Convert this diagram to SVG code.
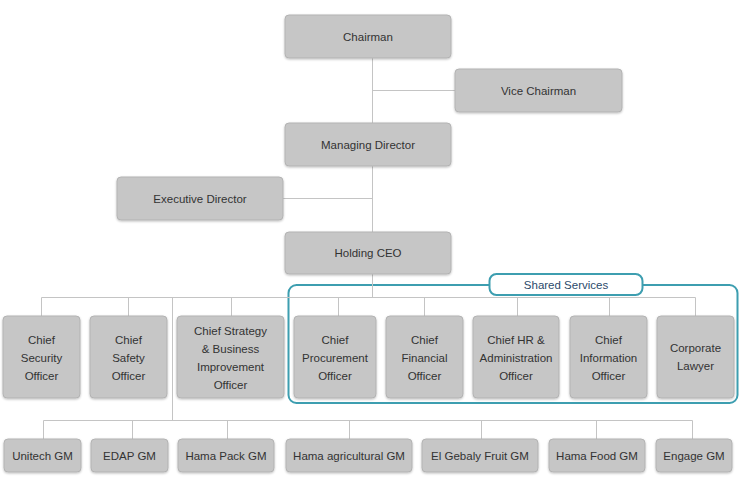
<svg xmlns="http://www.w3.org/2000/svg" width="740" height="491" viewBox="0 0 740 491">
<style>
.n rect{fill:#c6c6c6;stroke:#b3b3b3;stroke-width:1;filter:url(#sh)}
.n text{font-family:"Liberation Sans",Arial,sans-serif;font-size:11.5px;fill:#333;text-anchor:middle}
.c line{stroke:#c4c4c4;stroke-width:1}
.ss{fill:none;stroke:#3d9eb0;stroke-width:2}
.sl{fill:#fff;stroke:#3d9eb0;stroke-width:2}
.st{font-family:"Liberation Sans",Arial,sans-serif;font-size:11.5px;fill:#2c4a6b;text-anchor:middle}
</style>
<defs>
<filter id="sh" x="-10%" y="-10%" width="120%" height="130%">
<feDropShadow dx="0" dy="1" stdDeviation="1" flood-color="#000" flood-opacity="0.25"/>
</filter>
</defs>
<rect width="740" height="491" fill="#fff"/>
<g id="shared-services">
<rect class="ss" x="288.5" y="285" width="449" height="118" rx="8"/>
<rect class="sl" x="489.5" y="274" width="153" height="21" rx="7"/>
<text class="st" x="566" y="288.5">Shared Services</text>
</g>
<g class="c" id="connectors">
<line x1="372.5" y1="58" x2="372.5" y2="123"/>
<line x1="372.5" y1="90.5" x2="455" y2="90.5"/>
<line x1="372.5" y1="166" x2="372.5" y2="232"/>
<line x1="283" y1="198.5" x2="372.5" y2="198.5"/>
<line x1="372.5" y1="274" x2="372.5" y2="297.5"/>
<line x1="41.5" y1="297.5" x2="695.5" y2="297.5"/>
<line x1="41.5" y1="297.5" x2="41.5" y2="316"/>
<line x1="128.5" y1="297.5" x2="128.5" y2="316"/>
<line x1="231.5" y1="297.5" x2="231.5" y2="316"/>
<line x1="338.5" y1="297.5" x2="338.5" y2="316"/>
<line x1="424.5" y1="297.5" x2="424.5" y2="316"/>
<line x1="517.5" y1="297.5" x2="517.5" y2="316"/>
<line x1="609.5" y1="297.5" x2="609.5" y2="316"/>
<line x1="695.5" y1="297.5" x2="695.5" y2="316"/>
<line x1="172.5" y1="297.5" x2="172.5" y2="420.5"/>
<line x1="43.5" y1="420.5" x2="692.5" y2="420.5"/>
<line x1="43.5" y1="420.5" x2="43.5" y2="439"/>
<line x1="132.5" y1="420.5" x2="132.5" y2="439"/>
<line x1="227.5" y1="420.5" x2="227.5" y2="439"/>
<line x1="349.5" y1="420.5" x2="349.5" y2="439"/>
<line x1="481.5" y1="420.5" x2="481.5" y2="439"/>
<line x1="596.5" y1="420.5" x2="596.5" y2="439"/>
<line x1="692.5" y1="420.5" x2="692.5" y2="439"/>
</g>
<g class="n" id="chairman"><rect x="285" y="15" width="166" height="43" rx="4"/><text x="368" y="41">Chairman</text></g>
<g class="n" id="vice-chairman"><rect x="455" y="69" width="167" height="43" rx="4"/><text x="538.5" y="95">Vice Chairman</text></g>
<g class="n" id="managing-director"><rect x="285" y="123" width="166" height="43" rx="4"/><text x="368" y="149">Managing Director</text></g>
<g class="n" id="executive-director"><rect x="117" y="177" width="166" height="43" rx="4"/><text x="200" y="203">Executive Director</text></g>
<g class="n" id="holding-ceo"><rect x="285" y="232" width="166" height="42" rx="4"/><text x="368" y="257">Holding CEO</text></g>

<g class="n" id="cso"><rect x="3" y="316" width="77" height="82" rx="4"/><text x="41.5" y="344">Chief</text><text x="41.5" y="362">Security</text><text x="41.5" y="380">Officer</text></g>
<g class="n" id="csafo"><rect x="90" y="316" width="77" height="82" rx="4"/><text x="128.5" y="344">Chief</text><text x="128.5" y="362">Safety</text><text x="128.5" y="380">Officer</text></g>
<g class="n" id="cstrat"><rect x="177" y="316" width="107" height="82" rx="4"/><text x="230.5" y="335">Chief Strategy</text><text x="230.5" y="353">&amp; Business</text><text x="230.5" y="371">Improvement</text><text x="230.5" y="389">Officer</text></g>
<g class="n" id="cpo"><rect x="294" y="316" width="82" height="82" rx="4"/><text x="335" y="344">Chief</text><text x="335" y="362">Procurement</text><text x="335" y="380">Officer</text></g>
<g class="n" id="cfo"><rect x="386" y="316" width="77" height="82" rx="4"/><text x="424.5" y="344">Chief</text><text x="424.5" y="362">Financial</text><text x="424.5" y="380">Officer</text></g>
<g class="n" id="chro"><rect x="473" y="316" width="86" height="82" rx="4"/><text x="516" y="344">Chief HR &amp;</text><text x="516" y="362">Administration</text><text x="516" y="380">Officer</text></g>
<g class="n" id="cio"><rect x="570" y="316" width="77" height="82" rx="4"/><text x="608.5" y="344">Chief</text><text x="608.5" y="362">Information</text><text x="608.5" y="380">Officer</text></g>
<g class="n" id="lawyer"><rect x="657" y="316" width="77" height="82" rx="4"/><text x="695.5" y="352">Corporate</text><text x="695.5" y="370">Lawyer</text></g>

<g class="n" id="unitech"><rect x="4" y="439" width="77" height="33" rx="4"/><text x="42.5" y="460">Unitech GM</text></g>
<g class="n" id="edap"><rect x="91" y="439" width="77" height="33" rx="4"/><text x="129.5" y="460">EDAP GM</text></g>
<g class="n" id="hama-pack"><rect x="178" y="439" width="96" height="33" rx="4"/><text x="226" y="460">Hama Pack GM</text></g>
<g class="n" id="hama-agri"><rect x="286" y="439" width="126" height="33" rx="4"/><text x="349" y="460">Hama agricultural GM</text></g>
<g class="n" id="el-gebaly"><rect x="422" y="439" width="116" height="33" rx="4"/><text x="480" y="460">El Gebaly Fruit GM</text></g>
<g class="n" id="hama-food"><rect x="549" y="439" width="96" height="33" rx="4"/><text x="597" y="460">Hama Food GM</text></g>
<g class="n" id="engage"><rect x="656" y="439" width="76" height="33" rx="4"/><text x="694" y="460">Engage GM</text></g>
</svg>
